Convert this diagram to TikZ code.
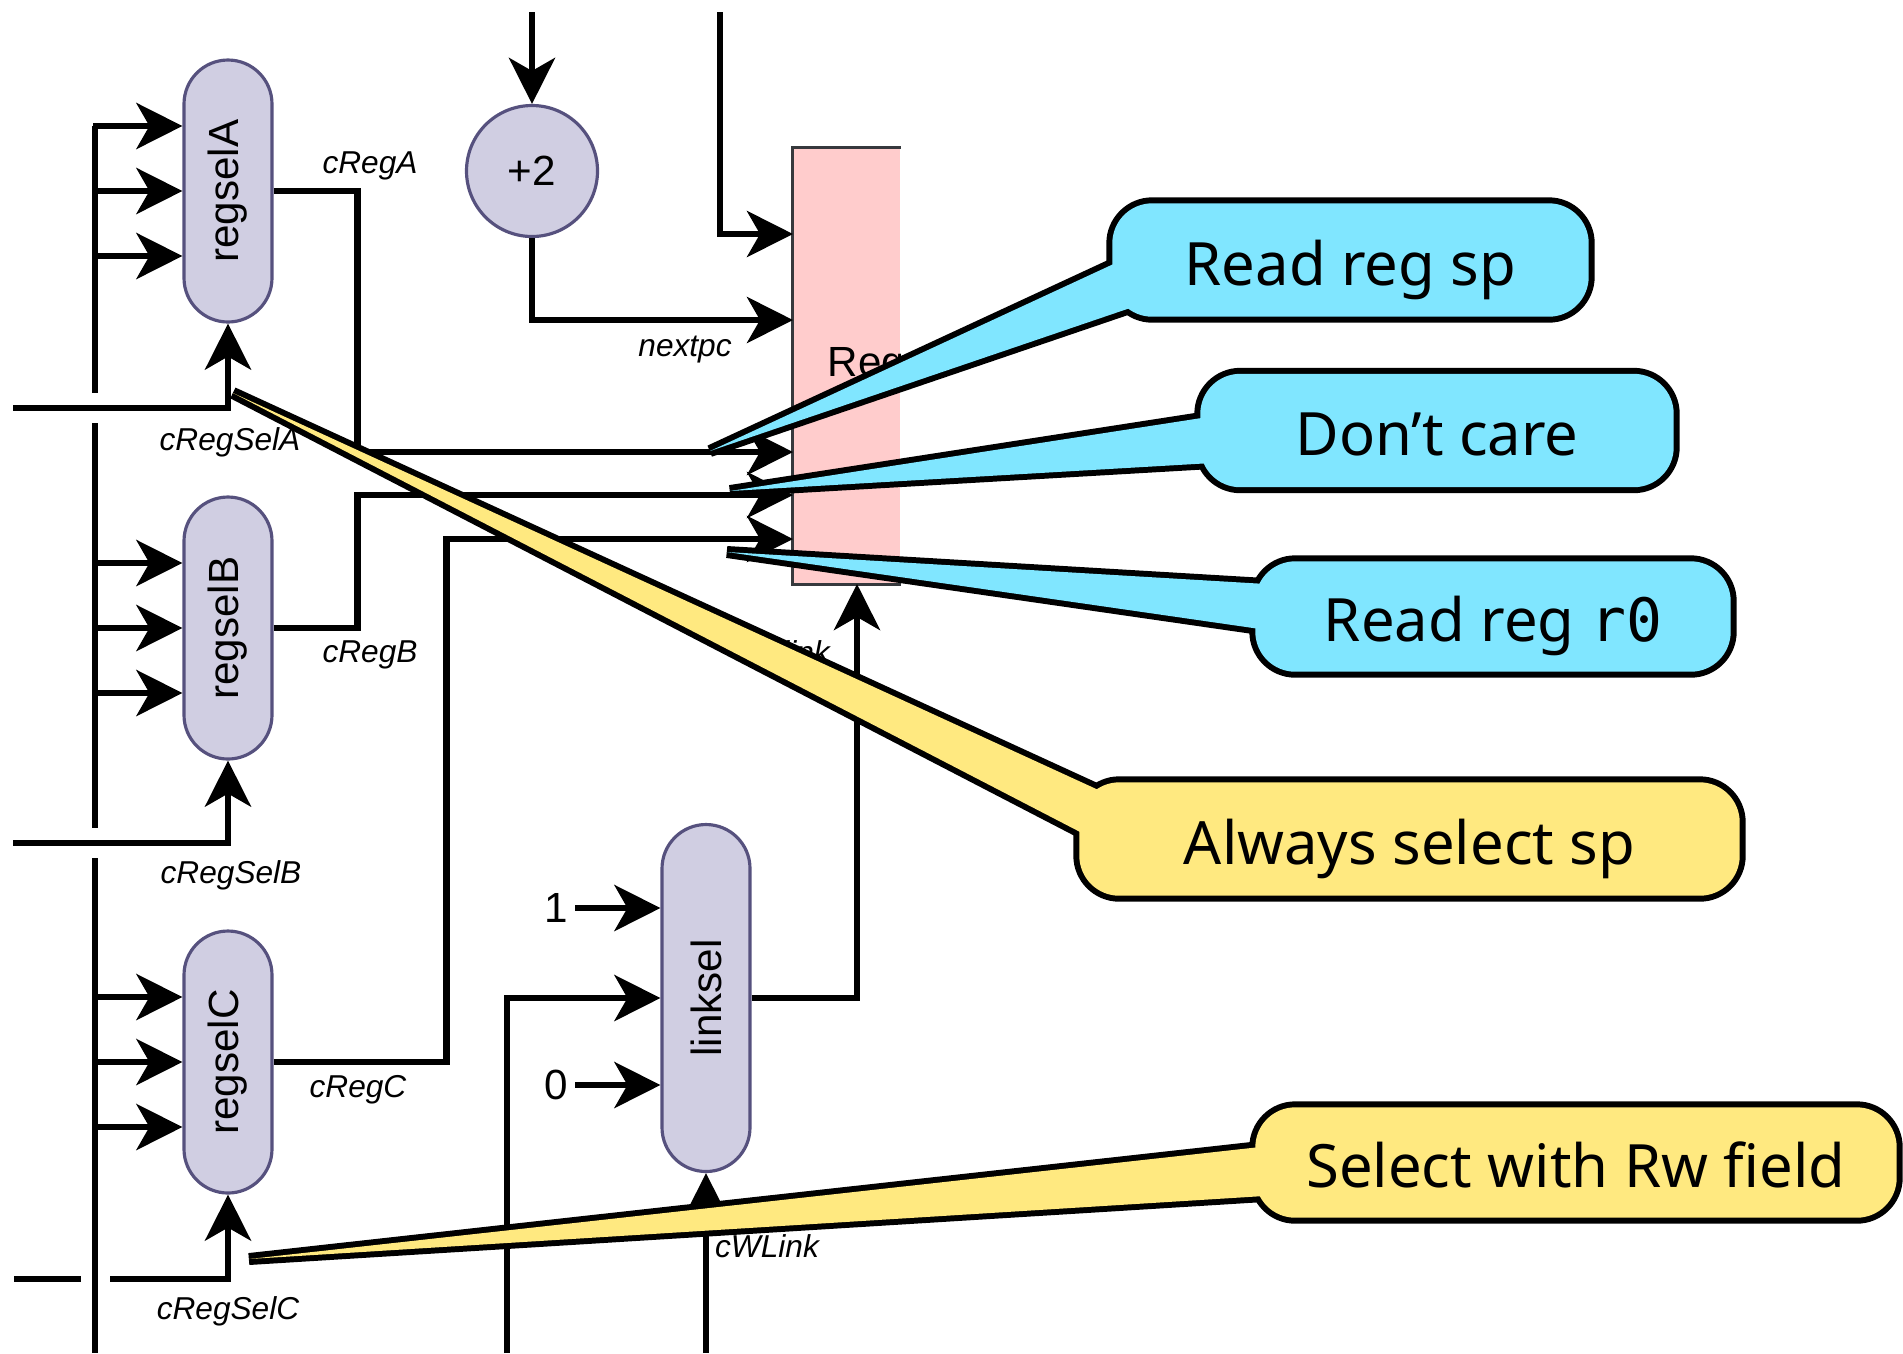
\documentclass[tikz,border=0pt]{standalone}
\usepackage{fontspec}
\setmainfont{Liberation Sans}
\newfontfamily\notefont{Noto Sans}
\newfontfamily\notemono{DejaVu Sans Mono}
\usetikzlibrary{arrows.meta,positioning,calc}

\definecolor{muxfill}{HTML}{D0CEE2}
\definecolor{muxline}{HTML}{56517E}
\definecolor{regfill}{HTML}{FFCCCC}
\definecolor{regline}{HTML}{36393D}
\definecolor{notecyan}{HTML}{80E6FF}
\definecolor{noteyellow}{HTML}{FFE980}

% callout: box node, tail tip, tail base points, colour, text
\newcommand{\notecallout}[6]{%
  \draw[line width=3.4pt, line join=miter] (#2) -- (#3) -- (#4) -- cycle;
  \draw[line width=3.4pt, rounded corners=4mm] (#1.south west) rectangle (#1.north east);
  \fill[#5] (#2) -- (#3) -- (#4) -- cycle;
  \fill[#5, rounded corners=4mm] (#1.south west) rectangle (#1.north east);
  \node[notetext, anchor=base] (#1text) at ($(#1)+(0,-0.25)$) {#6};
}

\begin{document}
\begin{tikzpicture}[
  wire/.style={line width=1.8pt},
  arr/.style={wire, -{Stealth[length=4.6mm, width=4.6mm, inset=1.3mm]}},
  mux/.style={draw=muxline, fill=muxfill, line width=0.9pt, rounded corners=4.4mm, minimum width=8.8mm, inner sep=0pt, font=\fontsize{12}{14}\selectfont},
  sig/.style={font=\itshape\fontsize{9}{11}\selectfont, inner sep=1pt},
  val/.style={font=\fontsize{12}{14}\selectfont, inner sep=2pt},
  notebox/.style={inner sep=0pt, minimum height=1.12cm},
  notetext/.style={inner sep=0pt, font=\notefont\fontsize{17}{20}\selectfont},
]
\useasboundingbox (0,0) rectangle (19.03,-13.53);

% selectors
\node[mux, minimum height=2.62cm] (selA) at (2.28,-1.91) {\rotatebox{90}{regselA}};
\node[mux, minimum height=2.62cm] (selB) at (2.28,-6.28) {\rotatebox{90}{regselB}};
\node[mux, minimum height=2.62cm] (selC) at (2.28,-10.62) {\rotatebox{90}{regselC}};
\node[mux, minimum height=3.47cm] (linksel) at (7.06,-9.98) {\rotatebox{90}{linksel}};
\node[circle, draw=muxline, fill=muxfill, line width=0.9pt, minimum size=1.31cm, inner sep=0pt, font=\fontsize{12}{14}\selectfont] (plus) at (5.32,-1.71) {+2};

% register file, cut off on the right
\node[fill=regfill, minimum width=1.07cm, minimum height=4.36cm, inner sep=0pt] (regs) at (8.465,-3.66) {};
\draw[regline, line width=1pt] (regs.north east) -- (regs.north west) -- (regs.south west) -- (regs.south east);
\begin{scope}
  \clip (regs.south west) rectangle (regs.north east);
  \node[anchor=west, font=\fontsize{12}{14}\selectfont, inner sep=0pt] (regname) at (8.27,-3.66) {Reg};
\end{scope}

% input bus
\coordinate (busTop) at (0.95,-1.26);
\draw[wire] (busTop) -- (0.95,-3.93);
\draw[wire] (0.95,-4.23) -- (0.95,-8.28);
\draw[wire] (0.95,-8.58) -- (0.95,-13.53);
\foreach \m in {selA,selB,selC}
  \foreach \dy in {0.65,0,-0.65}
    \draw[arr] ($(\m.west)+(-0.89,\dy)$) -- ($(\m.west)+(0,\dy)$);

% select controls
\coordinate (ctlA) at (0.13,-4.08);
\coordinate (ctlB) at (0.13,-8.43);
\coordinate (ctlC) at (0.14,-12.79);
\draw[arr] (ctlA) -| (selA.south);
\draw[arr] (ctlB) -| (selB.south);
\draw[wire] (ctlC) -- ++(0.67,0);
\draw[arr] ($(ctlC)+(0.96,0)$) -| (selC.south);

% register inputs
\coordinate (inT) at (7.93,-2.34);
\coordinate (inN) at (7.93,-3.20);
\coordinate (inA) at (7.93,-4.52);
\coordinate (inB) at (7.93,-4.95);
\coordinate (inC) at (7.93,-5.39);
\coordinate (inL) at (8.57,-5.84);
\draw[arr] (selA.east) -- ++(0.84,0) |- (inA);
\draw[arr] (selB.east) -- ++(0.84,0) |- (inB);
\draw[arr] (selC.east) -- ++(1.73,0) |- (inC);

\coordinate (pcTop) at (5.32,-0.12);
\coordinate (wTop) at (7.20,-0.12);
\draw[arr] (pcTop) -- (plus.north);
\draw[arr] (plus.south) |- (inN);
\draw[arr] (wTop) |- (inT);

% link select
\node[val] (one) at (5.56,-9.08) {1};
\node[val] (zero) at (5.56,-10.85) {0};
\coordinate (lnkIn) at (5.07,-13.53);
\draw[arr] (one.east) -- (one.east -| linksel.west);
\draw[arr] (zero.east) -- (zero.east -| linksel.west);
\draw[arr] (lnkIn) |- (linksel.west);
\draw[arr] (linksel.south |- lnkIn) -- (linksel.south);
\draw[arr] (linksel.east) -| (inL);

% signal names
\node[sig] (lSelA) at (2.30,-4.42) {cRegSelA};
\node[sig] (lSelB) at (2.31,-8.75) {cRegSelB};
\node[sig] (lSelC) at (2.28,-13.11) {cRegSelC};
\node[sig] (lRegA) at (3.70,-1.66) {cRegA};
\node[sig] (lRegB) at (3.70,-6.55) {cRegB};
\node[sig] (lRegC) at (3.58,-10.90) {cRegC};
\node[sig] (lNext) at (6.85,-3.50) {nextpc};
\node[sig] (lWLink) at (7.67,-12.46) {cWLink};
\node[sig, anchor=east] (lLink) at (8.34,-6.52) {link};

% callouts
\node[notebox, minimum width=4.75cm] (sp) at (13.505,-2.60) {};
\coordinate (spTip) at (7.10,-4.51);
\coordinate (spA) at (11.20,-2.61);
\coordinate (spB) at (11.36,-3.06);
\notecallout{sp}{spTip}{spA}{spB}{notecyan}{Read reg sp}

\node[notebox, minimum width=4.72cm] (dc) at (14.37,-4.305) {};
\coordinate (dcTip) at (7.30,-4.91);
\coordinate (dcA) at (12.08,-4.17);
\coordinate (dcB) at (12.12,-4.63);
\notecallout{dc}{dcTip}{dcA}{dcB}{notecyan}{Don’t care}

\node[notebox, minimum width=4.74cm, minimum height=1.09cm] (rz) at (14.93,-6.165) {};
\coordinate (rzTip) at (7.27,-5.52);
\coordinate (rzA) at (12.66,-5.84);
\coordinate (rzB) at (12.60,-6.29);
\notecallout{rz}{rzTip}{rzA}{rzB}{notecyan}{Read reg {\notemono r0}}

\node[notebox, minimum width=6.59cm] (al) at (14.095,-8.39) {};
\coordinate (alTip) at (2.33,-3.93);
\coordinate (alA) at (11.05,-7.93);
\coordinate (alB) at (10.84,-8.34);
\notecallout{al}{alTip}{alA}{alB}{noteyellow}{Always select sp}

\node[notebox, minimum width=6.40cm, minimum height=1.09cm] (rw) at (15.76,-11.625) {};
\coordinate (rwTip) at (2.49,-12.59);
\coordinate (rwA) at (12.60,-11.47);
\coordinate (rwB) at (12.64,-11.96);
\notecallout{rw}{rwTip}{rwA}{rwB}{noteyellow}{Select with Rw field}
\end{tikzpicture}
\end{document}
